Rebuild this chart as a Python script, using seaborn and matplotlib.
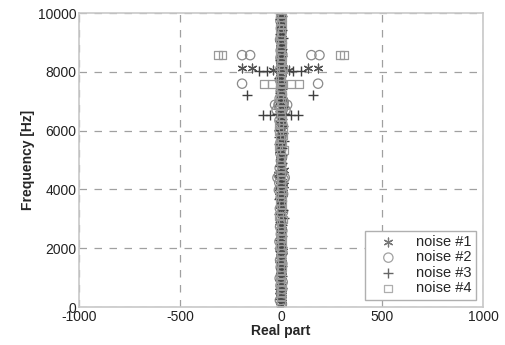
import matplotlib
matplotlib.use("Agg")
import matplotlib.pyplot as plt
import seaborn as sns
import pandas as pd

# ---- data ----
# outlying roots of each series
n1_out_re = [-193, -143, 135, 185, -40, 38]
n1_out_f = [8130, 8130, 8130, 8130, 8060, 8060]
n2_out_re = [-193, -153, 150, 190, -193, 183, -30, -12, 12, 30, -22, 22, -18, 18]
n2_out_f = [8570, 8570, 8570, 8570, 7600, 7600, 6880, 6900, 6900, 6880, 6700, 6700, 4400, 4400]
n3_out_re = [-110, -70, 60, 100, -168, 158, -90, -55, 50, 85, -20, 20]
n3_out_f = [8020, 8020, 8020, 8020, 7200, 7200, 6530, 6530, 6530, 6530, 6560, 6560]
n4_out_re = [-310, -290, 290, 310, -84, -45, 50, 90]
n4_out_f = [8570, 8570, 8570, 8570, 7600, 7600, 7600, 7600]

# roots close to the imaginary axis (dense column)
col_f_a = [40, 160, 290, 410, 540, 660, 790, 910, 1040, 1160,
           1290, 1410, 1540, 1660, 1790, 1910, 2040, 2160, 2290, 2410,
           2540, 2660, 2790, 2910, 3040, 3160, 3290, 3410, 3540, 3660,
           3790, 3910, 4040, 4160, 4290, 4410, 4540, 4660, 4790, 4910,
           5040, 5160, 5290, 5410, 5540, 5660, 5790, 5910, 6040, 6160,
           6290, 6410, 6540, 6660, 6790, 6910, 7040, 7160, 7290, 7410,
           7540, 7660, 7790, 7910, 8040, 8160, 8290, 8410, 8540, 8660,
           8790, 8910, 9040, 9160, 9290, 9410, 9540, 9660, 9790, 9910]
col_f_b = [100, 230, 350, 480, 600, 730, 850, 980, 1100, 1230,
           1350, 1480, 1600, 1730, 1850, 1980, 2100, 2230, 2350, 2480,
           2600, 2730, 2850, 2980, 3100, 3230, 3350, 3480, 3600, 3730,
           3850, 3980, 4100, 4230, 4350, 4480, 4600, 4730, 4850, 4980,
           5100, 5230, 5350, 5480, 5600, 5730, 5850, 5980, 6100, 6230,
           6350, 6480, 6600, 6730, 6850, 6980, 7100, 7230, 7350, 7480,
           7600, 7730, 7850, 7980, 8100, 8230, 8350, 8480, 8600, 8730,
           8850, 8980, 9100, 9230, 9350, 9480, 9600, 9730, 9850, 9980]
col_re_a = [-5, 3, -1, 7, -8, 2, 0, -4, 6, -2,
            1, -7, 4, 0, -3, 8, -1, 2, -6, 5,
            0, -2, 3, -8, 1, 4, -5, 0, -1, 7,
            -9, 10, -12, 12, -4, 3, -13, 14, 0, 2,
            -3, 1, 0, -1, 0, 2, -2, 0, 5, -4,
            3, -6, 7, -2, 1, -10, 9, -3, 2, -5,
            4, -1, 6, -7, 3, 0, -2, 2, -4, 5,
            -3, 1, 0, -6, 6, -1, 2, -2, 1, 0]
col_re_b = [4, -6, 2, -1, 5, -3, 8, -7, 0, 3,
            -2, 6, -5, 1, 7, -4, 0, -8, 3, -1,
            6, -5, 2, 0, -3, 9, -6, 1, 4, -2,
            10, -11, 8, -9, 12, -10, 6, -7, 3, -1,
            5, -4, 0, 2, -3, 1, 4, -5, 0, 6,
            -8, 2, -1, 9, -12, 13, -7, 4, -2, 0,
            3, -6, 1, 5, -4, 2, 0, -3, 6, -2,
            1, 4, -5, 0, 3, -1, 2, -3, 0, 1]

series_names = ["noise #1", "noise #2", "noise #3", "noise #4"]

df = pd.concat([
    pd.DataFrame({"re": n1_out_re, "f": n1_out_f, "s": series_names[0]}),
    pd.DataFrame({"re": col_re_a, "f": col_f_a, "s": series_names[0]}),
    pd.DataFrame({"re": n2_out_re, "f": n2_out_f, "s": series_names[1]}),
    pd.DataFrame({"re": col_re_b, "f": col_f_b, "s": series_names[1]}),
    pd.DataFrame({"re": n3_out_re, "f": n3_out_f, "s": series_names[2]}),
    pd.DataFrame({"re": col_re_b[::-1], "f": col_f_a, "s": series_names[2]}),
    pd.DataFrame({"re": n4_out_re, "f": n4_out_f, "s": series_names[3]}),
    pd.DataFrame({"re": col_re_a[::-1], "f": col_f_b, "s": series_names[3]}),
])

sns.set_theme(style="white")
plt.rcParams["font.family"] = ["Liberation Sans", "DejaVu Sans"]
plt.rcParams["axes.unicode_minus"] = False

fig = plt.figure(figsize=(5.06, 3.45), dpi=100)
ax = fig.add_axes([0.156, 0.110, 0.799, 0.852])

styles = {
    "noise #1": dict(marker=(6, 2, 0), s=40, color="#555555", linewidth=0.9),
    "noise #2": dict(marker="o", s=45, facecolor="none", edgecolor="#8a8a8a", linewidth=0.9),
    "noise #3": dict(marker="+", s=55, color="#404040", linewidth=1.0),
    "noise #4": dict(marker="s", s=32, facecolor="none", edgecolor="#9a9a9a", linewidth=0.9),
}
for name in series_names:
    sub = df[df["s"] == name]
    sns.scatterplot(data=sub, x="re", y="f", ax=ax, label=name, **styles[name])

ax.set_xlim(-1000, 1000)
ax.set_ylim(0, 10000)
ax.set_xticks([-1000, -500, 0, 500, 1000])
ax.set_yticks([0, 2000, 4000, 6000, 8000, 10000])
ax.set_xlabel("Real part", fontsize=10, fontweight="bold", labelpad=0)
ax.set_ylabel("Frequency [Hz]", fontsize=10, fontweight="bold", labelpad=2)
ax.tick_params(axis="both", labelsize=10, length=0, pad=2, colors="#222222")
ax.grid(True, linestyle=(0, (6, 6)), color="#a0a0a0", linewidth=0.9)
for sp in ax.spines.values():
    sp.set_color("#c8c8c8")
    sp.set_linewidth(1.2)

leg = ax.legend(loc="lower right", fontsize=10.5, frameon=True, fancybox=False,
                edgecolor="#b0b0b0", framealpha=1, handletextpad=0.6,
                borderpad=0.3, labelspacing=0.1, borderaxespad=0.5,
                handlelength=2.6)
leg.get_frame().set_linewidth(1.0)
for h in leg.legend_handles:
    h.set_alpha(0.8)

fig.savefig("out.png", dpi=100)
